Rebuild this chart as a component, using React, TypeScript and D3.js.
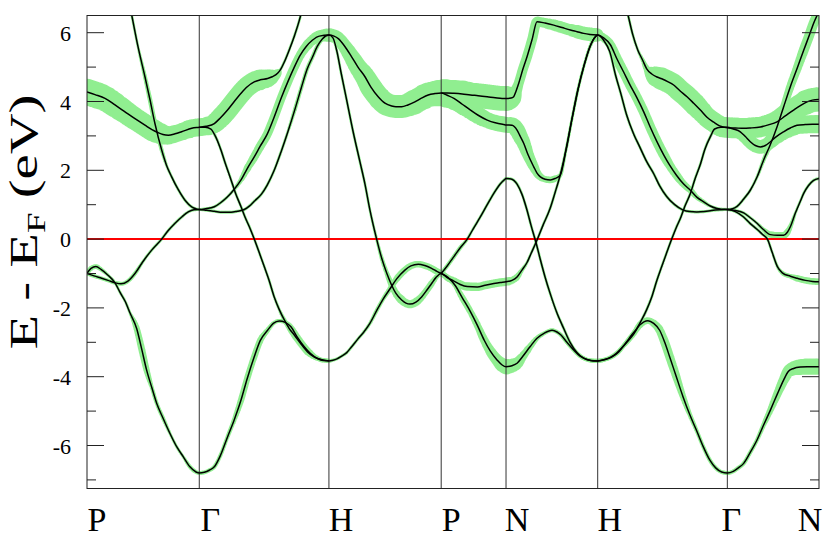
import React, { useEffect, useRef } from "react";
import * as d3 from "d3";

type P = [number, number, number]; // [k (2π/a path length), E - E_F (eV), fat half-width (eV)]

const kTicks = [0, 0.866, 1.866, 2.732, 3.232, 3.939, 4.939, 5.646];
const kLabels = ["P", "Γ", "H", "P", "N", "H", "Γ", "N"];
const labelShift = [10, 11, 12, 10, 11, 12, 4, -9];
const yMajor = [-6, -4, -2, 0, 2, 4, 6];
const yMinor = [-7, -5, -3, -1, 1, 3, 5];

const bandA: P[] = [
  [0.000,-1.00,0.06],[0.031,-0.85,0.07],[0.069,-0.80,0.07],[0.108,-0.88,0.06],[0.162,-1.05,0.045],[0.216,-1.27,0.04],[0.255,-1.55,0.04],[0.293,-1.80,0.04],[0.332,-2.15,0.045],[0.383,-2.60,0.09],[0.422,-3.20,0.10],[0.460,-3.81,0.09],[0.501,-4.33,0.06],[0.538,-4.78,0.06],[0.586,-5.20,0.06],[0.640,-5.65,0.045],[0.694,-6.05,0.045],[0.743,-6.33,0.045],[0.794,-6.62,0.06],[0.841,-6.77,0.06],[0.866,-6.80,0.06],
  [0.905,-6.78,0.06],[0.943,-6.72,0.06],[0.982,-6.62,0.06],[1.028,-6.30,0.06],[1.084,-5.75,0.06],[1.136,-5.25,0.07],[1.188,-4.68,0.09],[1.236,-4.05,0.09],[1.290,-3.42,0.09],[1.336,-2.95,0.09],[1.393,-2.65,0.07],[1.437,-2.45,0.06],[1.483,-2.38,0.06],[1.529,-2.42,0.06],[1.573,-2.55,0.07],[1.622,-2.85,0.09],[1.676,-3.13,0.09],[1.722,-3.32,0.09],[1.778,-3.47,0.07],[1.822,-3.53,0.06],[1.866,-3.54,0.06],
  [1.897,-3.52,0.045],[1.928,-3.48,0.045],[1.964,-3.40,0.045],[2.003,-3.30,0.045],[2.043,-3.12,0.045],[2.090,-2.90,0.045],[2.131,-2.72,0.045],[2.182,-2.45,0.05],[2.234,-2.08,0.06],[2.283,-1.75,0.06],[2.336,-1.45,0.07],[2.390,-1.15,0.09],[2.452,-0.90,0.09],[2.498,-0.78,0.09],[2.555,-0.73,0.09],[2.606,-0.77,0.09],[2.658,-0.85,0.09],[2.699,-0.94,0.09],[2.732,-1.00,0.09],
  [2.786,-1.12,0.06],[2.840,-1.35,0.07],[2.894,-1.70,0.09],[2.956,-2.10,0.09],[3.010,-2.50,0.10],[3.064,-2.94,0.12],[3.110,-3.25,0.145],[3.164,-3.52,0.17],[3.202,-3.66,0.20],[3.232,-3.71,0.22],
  [3.278,-3.68,0.20],[3.317,-3.61,0.17],[3.363,-3.40,0.12],[3.417,-3.13,0.09],[3.471,-2.88,0.07],[3.525,-2.74,0.06],[3.587,-2.65,0.06],[3.625,-2.70,0.06],[3.656,-2.79,0.06],[3.702,-3.00,0.06],[3.756,-3.23,0.06],[3.803,-3.40,0.06],[3.857,-3.50,0.06],[3.903,-3.54,0.06],[3.939,-3.54,0.06],
  [3.993,-3.50,0.06],[4.039,-3.43,0.06],[4.083,-3.32,0.06],[4.140,-3.10,0.06],[4.211,-2.79,0.07],[4.263,-2.50,0.09],[4.327,-2.37,0.09],[4.371,-2.45,0.10],[4.417,-2.65,0.12],[4.456,-3.00,0.13],[4.494,-3.42,0.13],[4.541,-3.95,0.12],[4.597,-4.58,0.09],[4.649,-5.10,0.07],[4.700,-5.55,0.06],[4.749,-6.00,0.06],[4.803,-6.42,0.06],[4.849,-6.65,0.06],[4.895,-6.77,0.06],[4.939,-6.80,0.06],
  [4.985,-6.75,0.06],[5.024,-6.65,0.06],[5.065,-6.52,0.06],[5.116,-6.20,0.06],[5.168,-5.84,0.06],[5.217,-5.42,0.07],[5.271,-4.97,0.09],[5.325,-4.50,0.12],[5.373,-4.10,0.145],[5.409,-3.85,0.17],[5.450,-3.76,0.20],[5.502,-3.72,0.23],[5.554,-3.71,0.23],[5.595,-3.71,0.23],[5.646,-3.71,0.23],
];

const bandB: P[] = [
  [0.000,-1.00,0.06],[0.054,-1.07,0.06],[0.113,-1.14,0.06],[0.162,-1.20,0.06],[0.216,-1.27,0.06],[0.262,-1.30,0.06],[0.316,-1.22,0.06],[0.370,-1.00,0.06],[0.432,-0.65,0.045],[0.499,-0.32,0.04],[0.576,0.00,0.04],[0.625,0.24,0.04],[0.679,0.46,0.04],[0.733,0.65,0.04],[0.781,0.79,0.04],[0.825,0.85,0.04],[0.866,0.86,0.04],
  [0.920,0.84,0.04],[0.982,0.81,0.04],[1.043,0.78,0.04],[1.111,0.78,0.04],[1.159,0.81,0.04],[1.213,0.86,0.04],[1.252,0.96,0.04],[1.290,1.10,0.04],[1.344,1.30,0.04],[1.390,1.57,0.04],[1.444,2.00,0.04],[1.498,2.55,0.045],[1.552,3.15,0.045],[1.606,3.80,0.06],[1.653,4.40,0.06],[1.699,4.95,0.06],[1.738,5.28,0.06],[1.776,5.60,0.06],[1.815,5.82,0.06],[1.866,5.93,0.06],
  [1.897,5.85,0.045],[1.928,5.45,0.04],[1.959,4.85,0.04],[2.003,4.04,0.04],[2.051,3.15,0.04],[2.105,2.25,0.04],[2.144,1.60,0.04],[2.182,0.85,0.04],[2.234,0.00,0.045],[2.275,-0.58,0.06],[2.313,-1.00,0.07],[2.350,-1.34,0.09],[2.383,-1.58,0.10],[2.427,-1.77,0.12],[2.460,-1.86,0.12],[2.491,-1.89,0.12],[2.537,-1.83,0.12],[2.581,-1.68,0.10],[2.622,-1.48,0.09],[2.658,-1.29,0.09],[2.691,-1.12,0.07],[2.732,-1.00,0.06],
  [2.778,-1.12,0.09],[2.830,-1.22,0.10],[2.879,-1.32,0.12],[2.933,-1.38,0.12],[3.010,-1.39,0.12],[3.071,-1.34,0.12],[3.138,-1.29,0.12],[3.187,-1.26,0.12],[3.232,-1.24,0.12],
  [3.278,-1.20,0.10],[3.317,-1.10,0.09],[3.355,-0.90,0.06],[3.394,-0.68,0.045],[3.425,-0.42,0.04],[3.463,-0.10,0.04],[3.517,0.40,0.04],[3.571,0.88,0.04],[3.610,1.35,0.04],[3.649,1.85,0.04],[3.695,2.60,0.04],[3.741,3.50,0.04],[3.787,4.35,0.04],[3.834,5.05,0.04],[3.880,5.60,0.045],[3.918,5.87,0.06],[3.939,5.93,0.06],
  [3.985,5.78,0.045],[4.032,5.45,0.04],[4.078,4.75,0.04],[4.116,4.25,0.04],[4.163,3.60,0.04],[4.217,3.05,0.04],[4.263,2.68,0.04],[4.317,2.25,0.04],[4.371,1.90,0.04],[4.417,1.55,0.04],[4.471,1.24,0.04],[4.533,1.00,0.04],[4.595,0.85,0.04],[4.649,0.80,0.04],[4.703,0.79,0.04],[4.764,0.80,0.04],[4.818,0.83,0.04],[4.880,0.85,0.04],[4.939,0.86,0.04],
  [5.001,0.80,0.04],[5.062,0.65,0.04],[5.116,0.45,0.04],[5.170,0.28,0.04],[5.209,0.14,0.04],[5.248,0.00,0.04],[5.286,-0.40,0.04],[5.325,-0.80,0.045],[5.363,-0.98,0.06],[5.425,-1.08,0.07],[5.479,-1.14,0.09],[5.541,-1.20,0.09],[5.595,-1.23,0.09],[5.646,-1.24,0.09],
];

const bandC: P[] = [
  [0.293,7.50,0.04],[0.345,6.51,0.04],[0.393,5.60,0.04],[0.447,4.72,0.06],[0.486,4.05,0.07],[0.524,3.36,0.07],[0.576,2.59,0.06],[0.613,2.15,0.045],[0.653,1.81,0.04],[0.702,1.45,0.04],[0.756,1.13,0.04],[0.810,0.93,0.04],[0.841,0.88,0.04],[0.866,0.86,0.04],
  [0.912,0.88,0.04],[0.982,0.94,0.04],[1.028,1.05,0.04],[1.084,1.23,0.04],[1.136,1.45,0.045],[1.188,1.72,0.07],[1.236,2.05,0.10],[1.290,2.39,0.12],[1.336,2.70,0.13],[1.390,3.05,0.13],[1.444,3.55,0.13],[1.498,4.10,0.13],[1.552,4.60,0.13],[1.599,5.00,0.13],[1.645,5.35,0.13],[1.691,5.60,0.14],[1.738,5.78,0.15],[1.792,5.90,0.17],[1.866,5.93,0.19],
  [1.905,5.90,0.19],[1.938,5.83,0.19],[1.989,5.60,0.20],[2.041,5.30,0.23],[2.090,5.00,0.26],[2.144,4.72,0.29],[2.190,4.42,0.32],[2.246,4.14,0.32],[2.298,3.95,0.33],[2.350,3.87,0.33],[2.383,3.85,0.33],[2.427,3.85,0.33],[2.475,3.90,0.33],[2.529,3.99,0.35],[2.576,4.09,0.35],[2.632,4.19,0.36],[2.684,4.23,0.36],[2.732,4.25,0.38],
  [2.778,4.18,0.35],[2.830,4.09,0.32],[2.894,3.92,0.29],[2.958,3.75,0.26],[3.017,3.60,0.25],[3.087,3.46,0.23],[3.149,3.38,0.23],[3.216,3.33,0.23],[3.232,3.32,0.23],
  [3.278,3.31,0.23],[3.317,3.17,0.23],[3.340,3.00,0.22],[3.369,2.78,0.20],[3.402,2.45,0.17],[3.446,2.10,0.145],[3.471,1.92,0.12],[3.497,1.81,0.10],[3.533,1.74,0.09],[3.574,1.72,0.09],[3.610,1.76,0.09],[3.649,1.85,0.06],[3.695,2.60,0.04],[3.741,3.50,0.04],[3.787,4.35,0.04],[3.834,5.05,0.04],[3.880,5.60,0.045],[3.918,5.87,0.06],[3.939,5.93,0.12],
  [3.985,5.85,0.12],[4.037,5.65,0.13],[4.086,5.25,0.145],[4.140,4.85,0.145],[4.186,4.50,0.145],[4.240,4.12,0.145],[4.294,3.70,0.145],[4.344,3.26,0.145],[4.394,2.85,0.145],[4.448,2.45,0.145],[4.494,2.15,0.13],[4.548,1.85,0.12],[4.602,1.60,0.10],[4.654,1.42,0.09],[4.703,1.22,0.07],[4.757,1.08,0.06],[4.803,0.97,0.045],[4.859,0.89,0.045],[4.895,0.87,0.045],[4.939,0.86,0.045],
  [5.001,0.83,0.04],[5.065,0.76,0.04],[5.116,0.62,0.04],[5.168,0.46,0.045],[5.217,0.28,0.06],[5.271,0.13,0.09],[5.325,0.11,0.10],[5.373,0.11,0.10],[5.402,0.20,0.09],[5.425,0.36,0.07],[5.463,0.75,0.045],[5.502,1.10,0.04],[5.528,1.33,0.04],[5.564,1.55,0.04],[5.602,1.70,0.04],[5.646,1.76,0.04],
];

const bandD: P[] = [
  [0.000,4.28,0.38],[0.062,4.20,0.38],[0.139,4.09,0.36],[0.216,3.90,0.35],[0.293,3.70,0.33],[0.370,3.50,0.32],[0.447,3.31,0.32],[0.501,3.18,0.32],[0.550,3.09,0.30],[0.586,3.04,0.29],[0.627,3.02,0.26],[0.679,3.06,0.25],[0.730,3.12,0.25],[0.808,3.22,0.26],[0.866,3.25,0.26],
  [0.920,3.28,0.26],[0.982,3.36,0.28],[1.028,3.52,0.29],[1.084,3.75,0.29],[1.136,4.00,0.29],[1.188,4.24,0.29],[1.236,4.43,0.29],[1.290,4.57,0.29],[1.336,4.63,0.29],[1.393,4.67,0.26],[1.429,4.72,0.20],[1.470,4.82,0.12],[1.491,4.92,0.04],[1.522,5.15,0.04],[1.560,5.50,0.04],[1.599,5.90,0.04],[1.637,6.35,0.04],[1.668,6.80,0.04],
];

const bandE: P[] = [
  [0.866,3.25,0.06],[0.912,3.25,0.06],[0.956,3.20,0.06],[0.989,3.00,0.045],[1.033,2.59,0.04],[1.067,2.20,0.04],[1.111,1.72,0.04],[1.144,1.35,0.04],[1.188,0.94,0.04],[1.221,0.62,0.04],[1.252,0.36,0.04],[1.290,0.00,0.04],[1.329,-0.40,0.04],[1.367,-0.80,0.04],[1.406,-1.22,0.04],[1.444,-1.68,0.04],[1.483,-2.05,0.045],[1.522,-2.35,0.06],[1.560,-2.60,0.07],[1.599,-2.79,0.09],[1.645,-3.02,0.09],[1.701,-3.28,0.09],[1.753,-3.43,0.07],[1.805,-3.50,0.06],[1.866,-3.54,0.06],
];

const bandF: P[] = [
  [2.732,-1.00,0.06],[2.778,-0.78,0.06],[2.830,-0.51,0.06],[2.879,-0.25,0.06],[2.933,0.00,0.045],[2.979,0.30,0.04],[3.035,0.65,0.04],[3.087,1.00,0.04],[3.138,1.33,0.04],[3.187,1.60,0.04],[3.218,1.72,0.04],[3.232,1.76,0.04],
  [3.271,1.75,0.04],[3.294,1.70,0.04],[3.317,1.60,0.04],[3.355,1.30,0.04],[3.394,0.84,0.04],[3.425,0.40,0.04],[3.463,-0.10,0.04],[3.497,-0.60,0.04],[3.533,-1.10,0.04],[3.574,-1.60,0.04],[3.625,-2.15,0.04],[3.677,-2.60,0.045],[3.726,-3.00,0.045],[3.780,-3.30,0.045],[3.834,-3.47,0.06],[3.888,-3.53,0.06],[3.939,-3.54,0.06],
  [3.997,-3.50,0.06],[4.047,-3.43,0.06],[4.101,-3.28,0.06],[4.155,-3.02,0.06],[4.201,-2.79,0.06],[4.240,-2.60,0.06],[4.278,-2.35,0.045],[4.317,-2.05,0.045],[4.356,-1.68,0.04],[4.394,-1.22,0.04],[4.433,-0.80,0.04],[4.471,-0.40,0.04],[4.510,0.00,0.04],[4.548,0.36,0.04],[4.579,0.62,0.04],[4.610,0.94,0.04],[4.656,1.35,0.04],[4.687,1.72,0.04],[4.733,2.20,0.04],[4.764,2.59,0.04],[4.811,3.00,0.045],[4.841,3.20,0.06],[4.888,3.25,0.06],[4.939,3.25,0.22],
  [4.985,3.20,0.22],[5.039,3.12,0.22],[5.078,2.98,0.20],[5.116,2.83,0.20],[5.155,2.72,0.20],[5.194,2.68,0.20],[5.232,2.72,0.20],[5.271,2.83,0.20],[5.317,2.98,0.22],[5.373,3.12,0.23],[5.425,3.23,0.25],[5.477,3.31,0.26],[5.541,3.33,0.26],[5.595,3.34,0.26],[5.646,3.34,0.26],
];

const bandG: P[] = [
  [4.124,7.20,0.04],[4.173,6.51,0.04],[4.209,5.95,0.04],[4.248,5.50,0.04],[4.286,5.20,0.06],[4.317,4.95,0.09],[4.356,4.80,0.20],[4.392,4.72,0.29],[4.433,4.66,0.32],[4.479,4.58,0.32],[4.525,4.48,0.32],[4.571,4.32,0.32],[4.628,4.14,0.32],[4.679,3.95,0.32],[4.731,3.75,0.30],[4.780,3.55,0.29],[4.834,3.40,0.29],[4.880,3.29,0.29],[4.939,3.24,0.29],
  [5.001,3.23,0.29],[5.065,3.22,0.29],[5.116,3.23,0.29],[5.194,3.26,0.29],[5.255,3.32,0.30],[5.322,3.41,0.32],[5.386,3.58,0.32],[5.450,3.75,0.33],[5.502,3.88,0.33],[5.554,3.99,0.35],[5.595,4.04,0.35],[5.646,4.06,0.35],
];

const bandH: P[] = [
  [2.732,4.25,0.38],[2.778,4.25,0.38],[2.830,4.24,0.38],[2.894,4.22,0.38],[2.958,4.19,0.36],[3.017,4.17,0.36],[3.087,4.14,0.36],[3.149,4.11,0.36],[3.202,4.09,0.36],[3.232,4.09,0.36],[3.271,4.10,0.29],[3.291,4.14,0.23],[3.309,4.30,0.17],[3.330,4.53,0.145],[3.363,4.95,0.145],[3.394,5.30,0.145],[3.433,5.80,0.145],[3.471,6.32,0.145],[3.533,6.28,0.145],[3.600,6.22,0.16],[3.664,6.15,0.17],[3.728,6.08,0.17],[3.780,6.03,0.19],[3.831,5.98,0.19],[3.880,5.95,0.19],[3.939,5.93,0.19],
];

const bandI: P[] = [
  [4.939,0.86,0.04],[4.978,0.88,0.04],[5.014,0.95,0.04],[5.062,1.15,0.04],[5.116,1.42,0.04],[5.170,1.82,0.045],[5.219,2.30,0.06],[5.271,2.75,0.07],[5.322,3.26,0.09],[5.371,3.82,0.10],[5.425,4.43,0.12],[5.479,4.98,0.13],[5.528,5.49,0.145],[5.564,5.85,0.145],[5.604,6.27,0.145],[5.646,6.62,0.145],
];

const bands: P[][] = [bandA, bandB, bandC, bandD, bandE, bandF, bandG, bandH, bandI];

const FONT = "'Liberation Serif', 'Times New Roman', Times, serif";

export default function App() {
  const ref = useRef<SVGSVGElement>(null);

  useEffect(() => {
    const left = 87, right = 819, top = 15.5, bottom = 488.5;
    const svg = d3.select(ref.current);
    svg.selectAll("*").remove();

    const x = d3.scaleLinear().domain([kTicks[0], kTicks[kTicks.length - 1]]).range([left, right]);
    const y = d3.scaleLinear().domain([-7.25, 6.5]).range([bottom, top]);
    const pxPerEv = Math.abs(y(1) - y(0));

    svg.append("rect").attr("width", 830).attr("height", 542).attr("fill", "#fff");

    svg.append("defs").append("clipPath").attr("id", "plotclip")
      .append("rect").attr("x", left).attr("y", top).attr("width", right - left).attr("height", bottom - top);

    const plot = svg.append("g").attr("clip-path", "url(#plotclip)");
    const gFat = plot.append("g");
    const gGrid = plot.append("g");
    const gZero = plot.append("g");
    const gLines = plot.append("g");

    const line = d3.line<P>().x(d => x(d[0])).y(d => y(d[1])).curve(d3.curveMonotoneX);

    bands.forEach(b => {
      const path = gLines.append("path")
        .attr("d", line(b) as string)
        .attr("fill", "none")
        .attr("stroke", "#000")
        .attr("stroke-width", 1.5);
      const node = path.node() as SVGPathElement;
      const L = node.getTotalLength();
      const wAt = d3.scaleLinear().domain(b.map(d => x(d[0]))).range(b.map(d => d[2] * pxPerEv)).clamp(true);
      let dStr = "";
      for (let s = 0; s <= L; s += 0.8) {
        const p = node.getPointAtLength(s);
        const r = wAt(p.x);
        if (r < 0.3) continue;
        dStr += `M${(p.x - r).toFixed(2)},${p.y.toFixed(2)}a${r.toFixed(2)},${r.toFixed(2)} 0 1,0 ${(2 * r).toFixed(2)},0a${r.toFixed(2)},${r.toFixed(2)} 0 1,0 ${(-2 * r).toFixed(2)},0`;
      }
      gFat.append("path").attr("d", dStr).attr("fill", "#90ee90");
    });

    gGrid.selectAll("line").data(kTicks.slice(1, -1)).join("line")
      .attr("x1", d => x(d)).attr("x2", d => x(d))
      .attr("y1", top).attr("y2", bottom)
      .attr("stroke", "#333").attr("stroke-width", 1);

    gZero.append("line")
      .attr("x1", left).attr("x2", right)
      .attr("y1", y(0)).attr("y2", y(0))
      .attr("stroke", "#ff0000").attr("stroke-width", 2);

    // frame
    svg.append("rect").attr("x", left).attr("y", top).attr("width", right - left).attr("height", bottom - top)
      .attr("fill", "none").attr("stroke", "#222").attr("stroke-width", 1);

    // ticks
    const gT = svg.append("g").attr("stroke", "#222").attr("stroke-width", 1);
    yMajor.forEach(v => {
      gT.append("line").attr("x1", left).attr("x2", left + 17).attr("y1", y(v)).attr("y2", y(v));
      gT.append("line").attr("x1", right - 17).attr("x2", right).attr("y1", y(v)).attr("y2", y(v));
    });
    yMinor.forEach(v => {
      gT.append("line").attr("x1", left).attr("x2", left + 9).attr("y1", y(v)).attr("y2", y(v));
      gT.append("line").attr("x1", right - 9).attr("x2", right).attr("y1", y(v)).attr("y2", y(v));
    });

    // tick labels
    svg.append("g").selectAll("text").data(yMajor).join("text")
      .attr("x", 71).attr("y", d => y(d) + 8)
      .attr("text-anchor", "end")
      .attr("font-family", FONT).attr("font-size", 22).attr("fill", "#000")
      .text(d => String(d));

    // k-point labels
    svg.append("g").selectAll("text").data(kTicks).join("text")
      .attr("x", (d, i) => x(d) + labelShift[i]).attr("y", 531)
      .attr("text-anchor", "middle")
      .attr("font-family", FONT).attr("font-size", 34).attr("fill", "#000")
      .text((d, i) => kLabels[i]);

    // y-axis title
    const t = svg.append("text")
      .attr("transform", "translate(37,222) rotate(-90)")
      .attr("text-anchor", "middle")
      .attr("font-family", FONT).attr("font-size", 40).attr("fill", "#000")
      .attr("textLength", 255).attr("lengthAdjust", "spacingAndGlyphs");
    t.append("tspan").text("E - E");
    t.append("tspan").attr("font-size", 26).attr("dy", 8).text("F");
    t.append("tspan").attr("dy", -8).text(" (eV)");
  }, []);

  return (
    <svg
      ref={ref}
      width={830}
      height={542}
      style={{ position: "absolute", left: 0, top: 0, display: "block" }}
    />
  );
}
